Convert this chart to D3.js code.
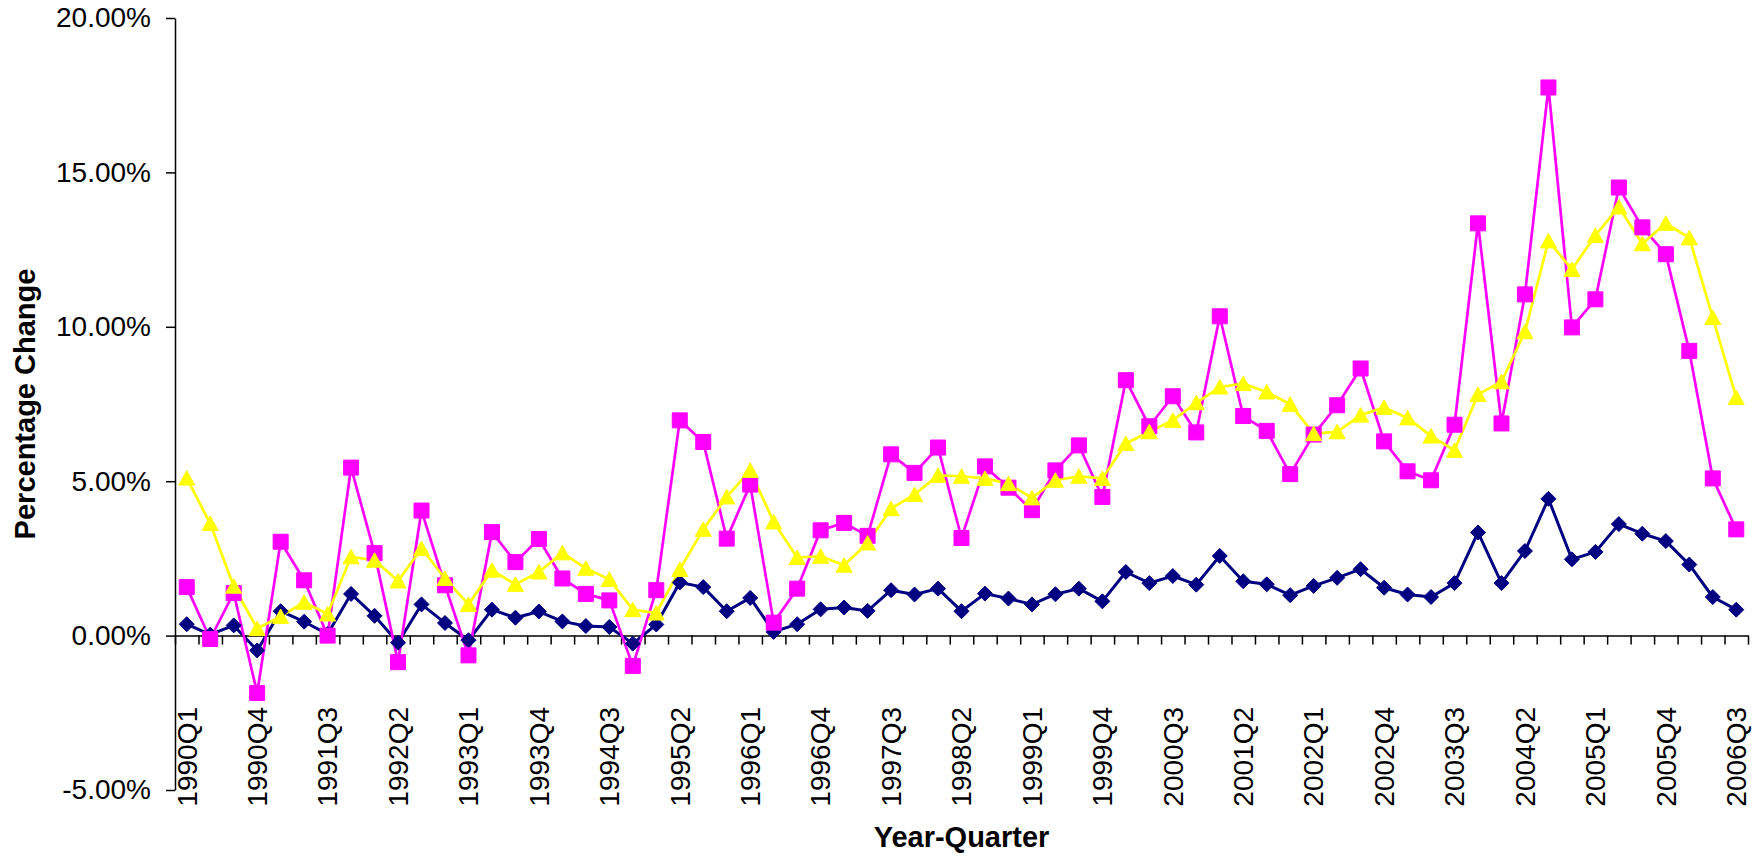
<!DOCTYPE html>
<html>
<head>
<meta charset="utf-8">
<script src="https://cdn.jsdelivr.net/npm/d3@7"></script>
<style>
  html, body { margin: 0; padding: 0; background: #fff; }
  svg { display: block; font-family: "Liberation Sans", Arial, sans-serif; }
</style>
</head>
<body>
<div id="chart"></div>
<script>
const quarters = [
  "1990Q1","1990Q2","1990Q3","1990Q4","1991Q1","1991Q2","1991Q3","1991Q4",
  "1992Q1","1992Q2","1992Q3","1992Q4","1993Q1","1993Q2","1993Q3","1993Q4",
  "1994Q1","1994Q2","1994Q3","1994Q4","1995Q1","1995Q2","1995Q3","1995Q4",
  "1996Q1","1996Q2","1996Q3","1996Q4","1997Q1","1997Q2","1997Q3","1997Q4",
  "1998Q1","1998Q2","1998Q3","1998Q4","1999Q1","1999Q2","1999Q3","1999Q4",
  "2000Q1","2000Q2","2000Q3","2000Q4","2001Q1","2001Q2","2001Q3","2001Q4",
  "2002Q1","2002Q2","2002Q3","2002Q4","2003Q1","2003Q2","2003Q3","2003Q4",
  "2004Q1","2004Q2","2004Q3","2004Q4","2005Q1","2005Q2","2005Q3","2005Q4",
  "2006Q1","2006Q2","2006Q3"
];

// percentage change per quarter
const navyValues = [
  0.37, 0.03, 0.33, -0.48, 0.79, 0.45, 0.05, 1.35,
  0.64, -0.23, 1.01, 0.41, -0.15, 0.84, 0.58, 0.78,
  0.46, 0.31, 0.28, -0.26, 0.36, 1.72, 1.57, 0.79,
  1.22, 0.12, 0.37, 0.85, 0.91, 0.80, 1.47, 1.33,
  1.52, 0.79, 1.36, 1.20, 1.01, 1.34, 1.52, 1.11,
  2.06, 1.70, 1.93, 1.65, 2.58, 1.76, 1.66, 1.31,
  1.61, 1.87, 2.15, 1.55, 1.33, 1.25, 1.70, 3.34,
  1.70, 2.74, 4.43, 2.47, 2.71, 3.61, 3.30, 3.06,
  2.30, 1.25, 0.84
];

const magentaValues = [
  1.57, -0.11, 1.38, -1.86, 3.04, 1.79, 0.00, 5.44,
  2.67, -0.86, 4.05, 1.63, -0.64, 3.35, 2.38, 3.13,
  1.85, 1.35, 1.14, -0.98, 1.47, 6.97, 6.27, 3.14,
  4.89, 0.42, 1.52, 3.41, 3.65, 3.23, 5.87, 5.27,
  6.09, 3.16, 5.48, 4.79, 4.06, 5.35, 6.16, 4.49,
  8.27, 6.78, 7.75, 6.58, 10.34, 7.11, 6.63, 5.23,
  6.51, 7.46, 8.65, 6.29, 5.32, 5.03, 6.83, 13.35,
  6.87, 11.05, 17.75, 9.98, 10.89, 14.51, 13.22, 12.35,
  9.22, 5.09, 3.44
];

const yellowValues = [
  5.10, 3.63, 1.60, 0.23, 0.62, 1.08, 0.70, 2.55,
  2.44, 1.77, 2.82, 1.85, 1.01, 2.12, 1.66, 2.06,
  2.68, 2.18, 1.82, 0.84, 0.73, 2.14, 3.44, 4.49,
  5.35, 3.68, 2.53, 2.57, 2.28, 3.00, 4.11, 4.57,
  5.19, 5.16, 5.09, 4.92, 4.46, 5.03, 5.16, 5.09,
  6.22, 6.60, 6.97, 7.54, 8.05, 8.16, 7.89, 7.49,
  6.54, 6.60, 7.14, 7.39, 7.05, 6.46, 6.00, 7.81,
  8.22, 9.84, 12.78, 11.86, 12.96, 13.88, 12.69, 13.35,
  12.88, 10.30, 7.71
];

const yTicks = [-5, 0, 5, 10, 15, 20];

const width = 1760;
const height = 857;
const margin = { top: 18, right: 12, bottom: 67, left: 175 };

const series = [
  { values: navyValues, color: "#000080", marker: "diamond", lineWidth: 3 },
  { values: magentaValues, color: "#FF00FF", marker: "square", lineWidth: 2.7 },
  { values: yellowValues, color: "#FFFF00", marker: "triangle", lineWidth: 2.7 }
];

const svg = d3.select("#chart")
  .append("svg")
  .attr("width", width)
  .attr("height", height);

const x = d3.scaleBand()
  .domain(quarters)
  .range([margin.left, width - margin.right]);
const xMid = q => x(q) + x.bandwidth() / 2;

// boundaries between categories, used for the tick marks
const xEdge = d3.scaleLinear()
  .domain([0, quarters.length])
  .range(x.range());

const y = d3.scaleLinear()
  .domain([-5, 20])
  .range([height - margin.bottom, margin.top]);

// y axis
const yAxis = svg.append("g")
  .attr("transform", `translate(${margin.left},0)`)
  .call(d3.axisLeft(y)
    .tickValues(yTicks)
    .tickFormat(d => d.toFixed(2) + "%")
    .tickSize(9)
    .tickSizeOuter(0)
    .tickPadding(15));
yAxis.select(".domain").attr("stroke", "#000").attr("stroke-width", 1.5);
yAxis.selectAll(".tick line").attr("stroke", "#000").attr("stroke-width", 1.5);
yAxis.selectAll(".tick text")
  .attr("font-size", 28)
  .attr("font-family", "'Liberation Sans', Arial, sans-serif")
  .attr("fill", "#000");

// x axis sits on the zero line
const xAxis = svg.append("g")
  .attr("transform", `translate(0,${y(0)})`)
  .call(d3.axisBottom(xEdge)
    .tickValues(d3.range(quarters.length + 1))
    .tickFormat("")
    .tickSize(9)
    .tickSizeOuter(0));
xAxis.select(".domain").attr("stroke", "#000").attr("stroke-width", 1.5);
xAxis.selectAll(".tick line").attr("stroke", "#000").attr("stroke-width", 1.5);

// every third quarter is labelled, rotated
svg.append("g")
  .selectAll("text")
  .data(quarters.filter((q, i) => i % 3 === 0))
  .join("text")
    .attr("transform", q => `translate(${xMid(q)},707) rotate(-90)`)
    .attr("text-anchor", "end")
    .attr("dy", "0.35em")
    .attr("font-size", 28)
    .attr("fill", "#000")
    .text(q => q);

// axis titles
svg.append("text")
  .attr("x", (margin.left + width - margin.right) / 2)
  .attr("y", 847)
  .attr("text-anchor", "middle")
  .attr("font-size", 29)
  .attr("font-weight", "bold")
  .text("Year-Quarter");

svg.append("text")
  .attr("transform", `translate(35,${(y(20) + y(-5)) / 2}) rotate(-90)`)
  .attr("text-anchor", "middle")
  .attr("font-size", 29)
  .attr("font-weight", "bold")
  .text("Percentage Change");

// lines first, then markers on top
const line = d3.line()
  .x((d, i) => xMid(quarters[i]))
  .y(d => y(d));

series.forEach(s => {
  svg.append("path")
    .datum(s.values)
    .attr("fill", "none")
    .attr("stroke", s.color)
    .attr("stroke-width", s.lineWidth)
    .attr("stroke-linejoin", "round")
    .attr("d", line);
});

const markerPaths = {
  diamond: "M0,-7.5L7.5,0L0,7.5L-7.5,0Z",
  square: "M-7.5,-7.5H7.5V7.5H-7.5Z",
  triangle: "M0,-7.5L8,7L-8,7Z"
};

series.forEach(s => {
  svg.append("g")
    .selectAll("path")
    .data(s.values)
    .join("path")
      .attr("transform", (d, i) => `translate(${xMid(quarters[i])},${y(d)})`)
      .attr("d", markerPaths[s.marker])
      .attr("fill", s.color)
      .attr("stroke", s.color)
      .attr("stroke-width", 1)
      .attr("stroke-linejoin", "round");
});
</script>
</body>
</html>
